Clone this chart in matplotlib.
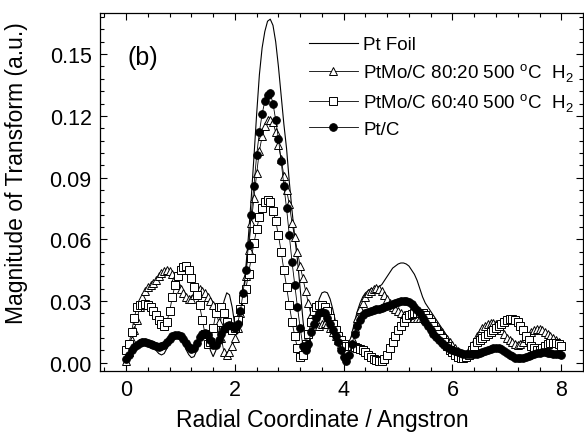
import matplotlib
matplotlib.use("Agg")
import matplotlib.pyplot as plt
from matplotlib.ticker import MultipleLocator
import numpy as np

plt.rcParams["font.family"] = ["Liberation Sans", "DejaVu Sans"]
plt.rcParams["mathtext.fontset"] = "custom"
plt.rcParams["mathtext.rm"] = "Liberation Sans"

# radial grid of the transform, 0 .. 8 Angstrom, step 0.05
radius = np.linspace(0, 8, 161)

pt_foil = [
    0.002, 0.004, 0.006, 0.008, 0.010, 0.011, 0.0115, 0.0115, 0.011, 0.010,
    0.008, 0.006, 0.0045, 0.0038, 0.0045, 0.007, 0.010, 0.012, 0.0135, 0.0135,
    0.012, 0.0095, 0.0065, 0.004, 0.0025, 0.003, 0.006, 0.010, 0.013, 0.014,
    0.011, 0.006, 0.003, 0.006, 0.014, 0.023, 0.030, 0.034, 0.033, 0.027,
    0.018, 0.014, 0.020, 0.031, 0.046, 0.062, 0.080, 0.100, 0.121, 0.140,
    0.153, 0.161, 0.166, 0.167, 0.164, 0.156, 0.144, 0.130, 0.116, 0.104,
    0.088, 0.074, 0.061, 0.050, 0.036, 0.021, 0.009, 0.007, 0.013, 0.020,
    0.026, 0.031, 0.034, 0.0345, 0.034, 0.031, 0.026, 0.020, 0.014, 0.009,
    0.006, 0.006, 0.009, 0.014, 0.020, 0.025, 0.029, 0.032, 0.034, 0.035,
    0.036, 0.036, 0.0365, 0.037, 0.038, 0.040, 0.042, 0.044, 0.046, 0.047,
    0.048, 0.0485, 0.0485, 0.048, 0.047, 0.045, 0.043, 0.040, 0.036, 0.032,
    0.029, 0.027, 0.025, 0.023, 0.021, 0.019, 0.017, 0.015, 0.013, 0.011,
    0.0085, 0.0075, 0.0065, 0.0055, 0.005, 0.005, 0.006, 0.0075, 0.009, 0.011,
    0.013, 0.015, 0.017, 0.018, 0.019, 0.0195, 0.019, 0.018, 0.016, 0.014,
    0.012, 0.011, 0.010, 0.0095, 0.0095, 0.010, 0.011, 0.012, 0.014, 0.015,
    0.016, 0.0165, 0.0165, 0.016, 0.015, 0.014, 0.013, 0.012, 0.011, 0.010,
    0.009,
]

ptmo_8020 = [
    0.001, 0.005, 0.011, 0.016, 0.021, 0.027, 0.032, 0.035, 0.037, 0.038,
    0.039, 0.040, 0.042, 0.0435, 0.0445, 0.045, 0.0445, 0.043, 0.041, 0.038,
    0.036, 0.034, 0.032, 0.031, 0.031, 0.033, 0.035, 0.036, 0.035, 0.034,
    0.032, 0.030, 0.028, 0.025, 0.020, 0.012, 0.005, 0.004, 0.005, 0.008,
    0.012, 0.017, 0.024, 0.032, 0.042, 0.055, 0.068, 0.080, 0.092, 0.103,
    0.110, 0.115, 0.118, 0.118, 0.117, 0.112, 0.106, 0.099, 0.091, 0.084,
    0.077, 0.068, 0.061, 0.054, 0.047, 0.041, 0.035, 0.029, 0.023, 0.019,
    0.018, 0.018, 0.019, 0.0195, 0.019, 0.017, 0.015, 0.013, 0.011, 0.009,
    0.007, 0.006, 0.008, 0.012, 0.017, 0.022, 0.026, 0.029, 0.032, 0.034,
    0.035, 0.036, 0.0365, 0.036, 0.035, 0.033, 0.031, 0.029, 0.027, 0.026,
    0.025, 0.024, 0.023, 0.0225, 0.022, 0.022, 0.022, 0.022, 0.022, 0.022,
    0.0215, 0.021, 0.020, 0.019, 0.018, 0.0165, 0.015, 0.013, 0.0115, 0.010,
    0.0085, 0.007, 0.0055, 0.0045, 0.004, 0.004, 0.006, 0.008, 0.010, 0.013,
    0.015, 0.017, 0.018, 0.019, 0.0195, 0.0195, 0.019, 0.018, 0.016, 0.014,
    0.012, 0.011, 0.010, 0.009, 0.0085, 0.009, 0.010, 0.012, 0.013, 0.015,
    0.016, 0.0165, 0.0165, 0.016, 0.015, 0.014, 0.013, 0.012, 0.011, 0.010,
    0.009,
]

ptmo_6040 = [
    0.006, 0.009, 0.015, 0.022, 0.027, 0.028, 0.028, 0.0285, 0.028, 0.027,
    0.025, 0.023, 0.021, 0.019, 0.018, 0.020, 0.025, 0.032, 0.038, 0.042,
    0.045, 0.0465, 0.047, 0.045, 0.041, 0.037, 0.033, 0.028, 0.021, 0.014,
    0.009, 0.010, 0.017, 0.024, 0.027, 0.027, 0.024, 0.020, 0.017, 0.016,
    0.017, 0.021, 0.026, 0.031, 0.036, 0.043, 0.051, 0.058, 0.065, 0.071,
    0.075, 0.078, 0.079, 0.078, 0.074, 0.069, 0.062, 0.054, 0.045, 0.037,
    0.028, 0.020, 0.013, 0.007, 0.003, 0.004, 0.009, 0.014, 0.020, 0.025,
    0.027, 0.028, 0.028, 0.027, 0.025, 0.022, 0.019, 0.016, 0.013, 0.011,
    0.009, 0.008, 0.008, 0.008, 0.0075, 0.007, 0.0065, 0.006, 0.005, 0.004,
    0.003, 0.002, 0.0015, 0.001, 0.001, 0.002, 0.004, 0.007, 0.010, 0.013,
    0.016, 0.018, 0.020, 0.022, 0.023, 0.0235, 0.024, 0.024, 0.024, 0.024,
    0.023, 0.022, 0.020, 0.018, 0.016, 0.014, 0.012, 0.010, 0.008, 0.006,
    0.005, 0.004, 0.003, 0.0025, 0.0025, 0.003, 0.004, 0.006, 0.008, 0.010,
    0.011, 0.012, 0.013, 0.014, 0.015, 0.016, 0.017, 0.018, 0.019, 0.020,
    0.021, 0.0212, 0.0213, 0.021, 0.020, 0.018, 0.016, 0.013, 0.011, 0.008,
    0.007, 0.006, 0.006, 0.007, 0.008, 0.009, 0.0095, 0.0095, 0.0095, 0.009,
    0.008,
]

pt_c = [
    0.002, 0.004, 0.006, 0.0075, 0.0088, 0.0095, 0.010, 0.010, 0.0098, 0.0092,
    0.0086, 0.008, 0.0078, 0.008, 0.0088, 0.010, 0.0115, 0.0128, 0.0135, 0.0135,
    0.013, 0.0115, 0.0095, 0.0075, 0.0065, 0.007, 0.0095, 0.0125, 0.0142, 0.0145,
    0.0135, 0.011, 0.0085, 0.0085, 0.011, 0.014, 0.0165, 0.018, 0.0182, 0.0178,
    0.017, 0.019, 0.025, 0.034, 0.045, 0.057, 0.072, 0.086, 0.101, 0.112,
    0.121, 0.127, 0.130, 0.131, 0.126, 0.118, 0.109, 0.098, 0.086, 0.075,
    0.062, 0.049, 0.038, 0.027, 0.017, 0.008, 0.006, 0.009, 0.015, 0.019,
    0.022, 0.024, 0.0245, 0.024, 0.022, 0.019, 0.016, 0.013, 0.010, 0.006,
    0.003, 0.001, 0.004, 0.009, 0.014, 0.018, 0.021, 0.023, 0.024, 0.0248,
    0.0252, 0.0255, 0.026, 0.0262, 0.0265, 0.027, 0.0275, 0.028, 0.0285, 0.029,
    0.0295, 0.030, 0.0302, 0.030, 0.0295, 0.0285, 0.027, 0.0255, 0.024, 0.022,
    0.020, 0.018, 0.016, 0.014, 0.0125, 0.011, 0.0095, 0.0085, 0.0075, 0.0065,
    0.006, 0.0055, 0.005, 0.0048, 0.0045, 0.0043, 0.0042, 0.0042, 0.0043, 0.0045,
    0.0048, 0.0052, 0.0057, 0.0062, 0.0067, 0.007, 0.0071, 0.007, 0.0065, 0.0057,
    0.0048, 0.004, 0.0032, 0.0025, 0.0021, 0.0021, 0.0025, 0.003, 0.0035, 0.004,
    0.0044, 0.0047, 0.0049, 0.005, 0.005, 0.0049, 0.0047, 0.0045, 0.0043, 0.0041,
    0.004,
]

labels = [
    "Pt Foil",
    r"PtMo/C 80:20 500 $^{\mathregular{o}}$C  H$_{\mathregular{2}}$",
    r"PtMo/C 60:40 500 $^{\mathregular{o}}$C  H$_{\mathregular{2}}$",
    "Pt/C",
]


def main():
    fig = plt.figure(figsize=(5.84, 4.35), dpi=100)
    ax = fig.add_axes([100 / 584, 1 - 372 / 435, 482.5 / 584, 358 / 435])

    ax.plot(radius, pt_foil, color="black", lw=0.8, label=labels[0])
    ax.plot(radius, ptmo_8020, color="black", lw=0.6, marker="^", ms=5.5,
            mfc="white", mec="black", mew=0.7, label=labels[1])
    ax.plot(radius, ptmo_6040, color="black", lw=0.6, marker="s", ms=5.2,
            mfc="white", mec="black", mew=0.7, label=labels[2])
    ax.plot(radius, pt_c, color="black", lw=0.6, marker="o", ms=5.5,
            mfc="black", mec="black", mew=0.7, label=labels[3])

    ax.set_xlim(-0.48, 8.39)
    ax.set_ylim(-0.004, 0.170)
    ax.xaxis.set_major_locator(MultipleLocator(2))
    ax.xaxis.set_minor_locator(MultipleLocator(0.4))
    ax.yaxis.set_major_locator(MultipleLocator(0.03))
    ax.yaxis.set_minor_locator(MultipleLocator(0.006))
    ax.yaxis.set_major_formatter(plt.FormatStrFormatter("%.2f"))

    ax.tick_params(which="both", direction="in", top=True, right=True,
                   width=0.8, labelsize=15.5)
    ax.tick_params(which="major", length=5, pad=6)
    ax.tick_params(which="minor", length=3)
    for spine in ax.spines.values():
        spine.set_linewidth(0.9)

    ax.set_xlabel("Radial Coordinate / Angstron", fontsize=16.5)
    ax.set_ylabel("Magnitude of Transform (a.u.)", fontsize=16.5)
    # label centres as placed in the original figure
    ax.xaxis.set_label_coords(222 / 482.5, -48 / 358, transform=ax.transAxes)
    ax.yaxis.set_label_coords(-83 / 482.5, 199 / 358, transform=ax.transAxes)
    ax.xaxis.label.set_va("center")
    ax.yaxis.label.set_va("center")
    ax.text(0.02, 0.1485, "(b)", fontsize=18, ha="left", va="center")

    ax.legend(loc="upper left", bbox_to_anchor=(309 / 584, 1 - 37 / 435),
              bbox_transform=fig.transFigure, frameon=False, fontsize=13.5,
              numpoints=1, handlelength=2.6, handletextpad=0.3,
              labelspacing=0.42, borderpad=0, borderaxespad=0)

    fig.savefig("out.png", dpi=100)
    plt.close(fig)


if __name__ == "__main__":
    main()
